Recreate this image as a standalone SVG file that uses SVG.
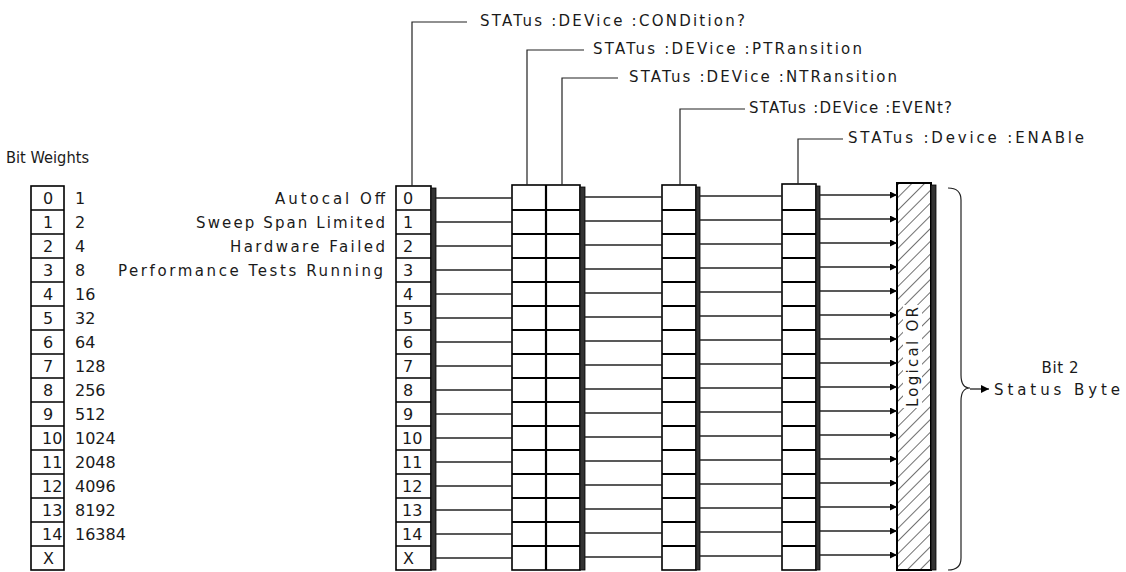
<svg xmlns="http://www.w3.org/2000/svg" width="1126" height="572" viewBox="0 0 1126 572">
<style>
text{font-family:"DejaVu Sans","Liberation Sans",Arial,sans-serif;font-size:15px;fill:#1a1a1a}
.num text{font-size:16px}
.box{fill:#fff;stroke:#000;stroke-width:1.6}
.sep{fill:none;stroke:#000;stroke-width:1.6}
.sep2{fill:none;stroke:#000;stroke-width:2.2}
.shade{fill:#333;stroke:#000;stroke-width:0.8}
.lead{fill:none;stroke:#222;stroke-width:1.2}
.conn line{stroke:#222;stroke-width:1.3}
.arr line{stroke:#222;stroke-width:1.3;marker-end:url(#ah)}
</style>
<defs>
<marker id="ah" viewBox="0 0 10 10" refX="10" refY="5" markerWidth="7" markerHeight="7" markerUnits="userSpaceOnUse" orient="auto"><path d="M0 0L10 5L0 10z" fill="#000"/></marker>
<marker id="ah2" viewBox="0 0 10 10" refX="10" refY="5" markerWidth="8" markerHeight="8" markerUnits="userSpaceOnUse" orient="auto"><path d="M0 0L10 5L0 10z" fill="#000"/></marker>
<pattern id="hatch" width="9" height="9" patternUnits="userSpaceOnUse" patternTransform="rotate(-45)"><line x1="0" y1="0" x2="9" y2="0" stroke="#333" stroke-width="1.4"/></pattern>
</defs>

<!-- Bit weights -->
<g id="bitweights">
<text x="6" y="163" textLength="83" lengthAdjust="spacingAndGlyphs">Bit Weights</text>
<rect class="box" x="31" y="186" width="33" height="384"/>
<path class="sep" d="M31 210H64M31 234H64M31 258H64M31 282H64M31 306H64M31 330H64M31 354H64M31 378H64M31 402H64M31 426H64M31 450H64M31 474H64M31 498H64M31 522H64M31 546H64"/>
<g class="num">
<text x="43" y="204">0</text><text x="43" y="228">1</text><text x="43" y="252">2</text><text x="43" y="276">3</text>
<text x="43" y="300">4</text><text x="43" y="324">5</text><text x="43" y="348">6</text><text x="43" y="372">7</text>
<text x="43" y="396">8</text><text x="43" y="420">9</text><text x="42" y="444">10</text><text x="42" y="468">11</text>
<text x="42" y="492">12</text><text x="42" y="516">13</text><text x="42" y="540">14</text><text x="43" y="564">X</text>
</g>
<g class="num">
<text x="75" y="204">1</text><text x="75" y="228">2</text><text x="75" y="252">4</text><text x="75" y="276">8</text>
<text x="75" y="300">16</text><text x="75" y="324">32</text><text x="75" y="348">64</text><text x="75" y="372">128</text>
<text x="75" y="396">256</text><text x="75" y="420">512</text><text x="75" y="444">1024</text><text x="75" y="468">2048</text>
<text x="75" y="492">4096</text><text x="75" y="516">8192</text><text x="75" y="540">16384</text>
</g>
</g>

<!-- Row labels -->
<g id="labels">
<text x="385" y="204" text-anchor="end" textLength="110" lengthAdjust="spacing">Autocal Off</text>
<text x="385" y="228" text-anchor="end" textLength="189" lengthAdjust="spacing">Sweep Span Limited</text>
<text x="385" y="252" text-anchor="end" textLength="155" lengthAdjust="spacing">Hardware Failed</text>
<text x="383" y="276" text-anchor="end" textLength="265" lengthAdjust="spacing">Performance Tests Running</text>
</g>

<!-- Condition register -->
<g id="condition">
<rect class="box" x="396" y="186" width="35" height="384"/>
<rect class="shade" x="431" y="188" width="5" height="382"/>
<path class="sep" d="M396 210H431M396 234H431M396 258H431M396 282H431M396 306H431M396 330H431M396 354H431M396 378H431M396 402H431M396 426H431M396 450H431M396 474H431M396 498H431M396 522H431M396 546H431"/>
<g class="num">
<text x="403" y="204">0</text><text x="403" y="228">1</text><text x="403" y="252">2</text><text x="403" y="276">3</text>
<text x="403" y="300">4</text><text x="403" y="324">5</text><text x="403" y="348">6</text><text x="403" y="372">7</text>
<text x="403" y="396">8</text><text x="403" y="420">9</text><text x="402" y="444">10</text><text x="402" y="468">11</text>
<text x="402" y="492">12</text><text x="402" y="516">13</text><text x="402" y="540">14</text><text x="403" y="564">X</text>
</g>
</g>

<!-- Transition registers -->
<g id="transition">
<rect class="box" x="512" y="185" width="68" height="385" stroke-width="2.2"/>
<rect class="shade" x="580" y="187" width="5" height="383"/>
<path class="sep2" d="M546 185V570M512 210H580M512 234H580M512 258H580M512 282H580M512 306H580M512 330H580M512 354H580M512 378H580M512 402H580M512 426H580M512 450H580M512 474H580M512 498H580M512 522H580M512 546H580"/>
</g>

<!-- Event register -->
<g id="event">
<rect class="box" x="662" y="185" width="34" height="385" stroke-width="2.2"/>
<rect class="shade" x="696" y="187" width="4" height="383"/>
<path class="sep2" d="M662 210H696M662 234H696M662 258H696M662 282H696M662 306H696M662 330H696M662 354H696M662 378H696M662 402H696M662 426H696M662 450H696M662 474H696M662 498H696M662 522H696M662 546H696"/>
</g>

<!-- Enable register -->
<g id="enable">
<rect class="box" x="782" y="184" width="34" height="386" stroke-width="2.2"/>
<rect class="shade" x="816" y="186" width="4" height="384"/>
<path class="sep2" d="M782 210H816M782 234H816M782 258H816M782 282H816M782 306H816M782 330H816M782 354H816M782 378H816M782 402H816M782 426H816M782 450H816M782 474H816M782 498H816M782 522H816M782 546H816"/>
</g>

<!-- Logical OR -->
<g id="logicalor">
<rect x="897" y="183" width="34" height="387" fill="url(#hatch)" stroke="#000" stroke-width="2"/>
<rect class="shade" x="931" y="185" width="5" height="385"/>
<rect x="903" y="305" width="19" height="103" fill="#fff"/>
<text transform="translate(918 357) rotate(-90)" text-anchor="middle" textLength="100" lengthAdjust="spacing" fill="#555">Logical OR</text>
</g>

<!-- Output -->
<g id="output">
<path class="lead" d="M948 188Q961 188 961 200V375Q961 388 970 388Q961 388 961 401V558Q961 570 948 570" stroke-width="1.3"/>
<text x="1060" y="373" text-anchor="middle" textLength="37" lengthAdjust="spacing">Bit 2</text>
<text x="994" y="395" textLength="126" lengthAdjust="spacing">Status Byte</text>
</g>

<!-- Command labels with leaders -->
<g id="commands">
<path class="lead" d="M412 186V22H467"/>
<text x="480" y="26" textLength="265" lengthAdjust="spacing">STATus :DEVice :CONDition?</text>
<path class="lead" d="M527 185V50H584"/>
<text x="593" y="54" textLength="269" lengthAdjust="spacing">STATus :DEVice :PTRansition</text>
<path class="lead" d="M562 185V78H618"/>
<text x="629" y="82" textLength="268" lengthAdjust="spacing">STATus :DEVice :NTRansition</text>
<path class="lead" d="M680 185V109H745"/>
<text x="749" y="113" textLength="203" lengthAdjust="spacing">STATus :DEVice :EVENt?</text>
<path class="lead" d="M798 184V139H843"/>
<text x="848" y="143" textLength="236" lengthAdjust="spacing">STATus :Device :ENABle</text>
</g>

<!-- Connectors -->
<g id="connectors">
<g class="conn">
<line x1="436" y1="198" x2="512" y2="198"/><line x1="436" y1="222" x2="512" y2="222"/><line x1="436" y1="246" x2="512" y2="246"/><line x1="436" y1="270" x2="512" y2="270"/>
<line x1="436" y1="294" x2="512" y2="294"/><line x1="436" y1="318" x2="512" y2="318"/><line x1="436" y1="342" x2="512" y2="342"/><line x1="436" y1="366" x2="512" y2="366"/>
<line x1="436" y1="390" x2="512" y2="390"/><line x1="436" y1="414" x2="512" y2="414"/><line x1="436" y1="438" x2="512" y2="438"/><line x1="436" y1="462" x2="512" y2="462"/>
<line x1="436" y1="486" x2="512" y2="486"/><line x1="436" y1="510" x2="512" y2="510"/><line x1="436" y1="534" x2="512" y2="534"/><line x1="436" y1="558" x2="512" y2="558"/>

<line x1="585" y1="197" x2="662" y2="197"/><line x1="585" y1="221" x2="662" y2="221"/><line x1="585" y1="245" x2="662" y2="245"/><line x1="585" y1="269" x2="662" y2="269"/>
<line x1="585" y1="293" x2="662" y2="293"/><line x1="585" y1="317" x2="662" y2="317"/><line x1="585" y1="341" x2="662" y2="341"/><line x1="585" y1="365" x2="662" y2="365"/>
<line x1="585" y1="389" x2="662" y2="389"/><line x1="585" y1="413" x2="662" y2="413"/><line x1="585" y1="437" x2="662" y2="437"/><line x1="585" y1="461" x2="662" y2="461"/>
<line x1="585" y1="485" x2="662" y2="485"/><line x1="585" y1="509" x2="662" y2="509"/><line x1="585" y1="533" x2="662" y2="533"/><line x1="585" y1="557" x2="662" y2="557"/>

<line x1="700" y1="196" x2="782" y2="196"/><line x1="700" y1="220" x2="782" y2="220"/><line x1="700" y1="244" x2="782" y2="244"/><line x1="700" y1="268" x2="782" y2="268"/>
<line x1="700" y1="292" x2="782" y2="292"/><line x1="700" y1="316" x2="782" y2="316"/><line x1="700" y1="340" x2="782" y2="340"/><line x1="700" y1="364" x2="782" y2="364"/>
<line x1="700" y1="388" x2="782" y2="388"/><line x1="700" y1="412" x2="782" y2="412"/><line x1="700" y1="436" x2="782" y2="436"/><line x1="700" y1="460" x2="782" y2="460"/>
<line x1="700" y1="484" x2="782" y2="484"/><line x1="700" y1="508" x2="782" y2="508"/><line x1="700" y1="532" x2="782" y2="532"/><line x1="700" y1="556" x2="782" y2="556"/>
</g>
<g class="arr">
<line x1="820" y1="195" x2="897" y2="195"/><line x1="820" y1="219" x2="897" y2="219"/><line x1="820" y1="243" x2="897" y2="243"/><line x1="820" y1="267" x2="897" y2="267"/>
<line x1="820" y1="291" x2="897" y2="291"/><line x1="820" y1="315" x2="897" y2="315"/><line x1="820" y1="339" x2="897" y2="339"/><line x1="820" y1="363" x2="897" y2="363"/>
<line x1="820" y1="387" x2="897" y2="387"/><line x1="820" y1="411" x2="897" y2="411"/><line x1="820" y1="435" x2="897" y2="435"/><line x1="820" y1="459" x2="897" y2="459"/>
<line x1="820" y1="483" x2="897" y2="483"/><line x1="820" y1="507" x2="897" y2="507"/><line x1="820" y1="531" x2="897" y2="531"/><line x1="820" y1="555" x2="897" y2="555"/>
</g>
<line x1="970" y1="389" x2="989" y2="389" stroke="#222" stroke-width="1.3" marker-end="url(#ah2)"/>
</g>
</svg>
